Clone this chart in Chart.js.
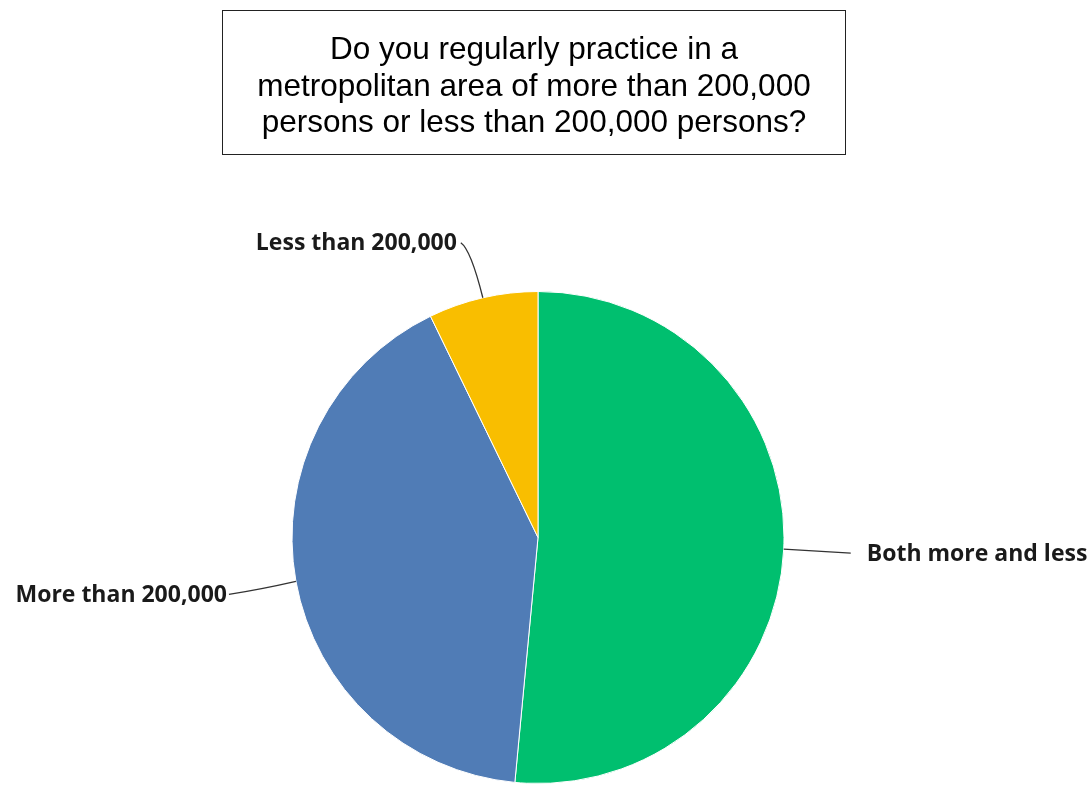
<!DOCTYPE html>
<html>
<head>
<meta charset="utf-8">
<script src="https://cdn.jsdelivr.net/npm/chart.js@4.4.1/dist/chart.umd.min.js"></script>
<style>
    html, body { margin: 0; padding: 0; background: #fff; }
    #wrap { position: relative; width: 1088px; height: 785px; }
    #chart { position: absolute; left: 0; top: 0; }
    #title {
        position: absolute; left: 222px; top: 10px;
        width: 622px; height: 143px;
        border: 1px solid #222;
        font-family: "Liberation Sans", Arial, sans-serif;
        font-size: 31.5px; line-height: 36.5px;
        text-align: center; color: #000;
    }
    #title div { padding-top: 19px; }
</style>
</head>
<body>
<div id="wrap">
    <canvas id="chart" width="1088" height="785"></canvas>
    <div id="title"><div>Do you regularly practice in a<br>metropolitan area of more than 200,000<br>persons or less than 200,000 persons?</div></div>
</div>
<script>
const categories = ['Both more and less', 'More than 200,000', 'Less than 200,000'];
const percents = [51.5, 41.3, 7.2];
const sliceColors = ['#00bf6f', '#507cb6', '#f9be00'];

document.addEventListener('DOMContentLoaded', function() {
    // where each label's leader line goes, relative to the slice edge
    const leaders = [
        { dx: 67, dy: 4, cx: 33, cy: 2, gap: 16, align: 'left' },
        { dx: -67, dy: 13, cx: -35, cy: 8, gap: -2, align: 'right' },
        { dx: -22, dy: -55, cx: -12, cy: -48, gap: -4, align: 'right' }
    ];

    const outsideLabels = {
        id: 'outsideLabels',
        afterDraw(chart) {
            const ctx = chart.ctx;
            const arcs = chart.getDatasetMeta(0).data;
            ctx.save();
            ctx.font = '700 23px "Open Sans", sans-serif';
            ctx.textBaseline = 'middle';
            ctx.fillStyle = '#1a1a1a';
            ctx.strokeStyle = '#333';
            ctx.lineWidth = 1.3;
            arcs.forEach((arc, i) => {
                const mid = (arc.startAngle + arc.endAngle) / 2;
                const x0 = arc.x + Math.cos(mid) * arc.outerRadius;
                const y0 = arc.y + Math.sin(mid) * arc.outerRadius;
                const l = leaders[i];
                const x1 = x0 + l.dx, y1 = y0 + l.dy;
                ctx.beginPath();
                ctx.moveTo(x0, y0);
                ctx.quadraticCurveTo(x0 + l.cx, y0 + l.cy, x1, y1);
                ctx.stroke();
                ctx.textAlign = l.align;
                ctx.fillText(categories[i], x1 + l.gap, y1 + 1);
            });
            ctx.restore();
        }
    };

    new Chart(document.getElementById('chart'), {
        type: 'pie',
        data: {
            labels: categories,
            datasets: [{
                data: percents,
                backgroundColor: sliceColors,
                borderColor: '#ffffff',
                borderWidth: 1
            }]
        },
        options: {
            responsive: false,
            animation: false,
            layout: { padding: { top: 291, bottom: 1, left: 0, right: 12 } },
            plugins: {
                legend: { display: false },
                tooltip: { enabled: false }
            }
        },
        plugins: [outsideLabels]
    });
});
</script>
</body>
</html>
